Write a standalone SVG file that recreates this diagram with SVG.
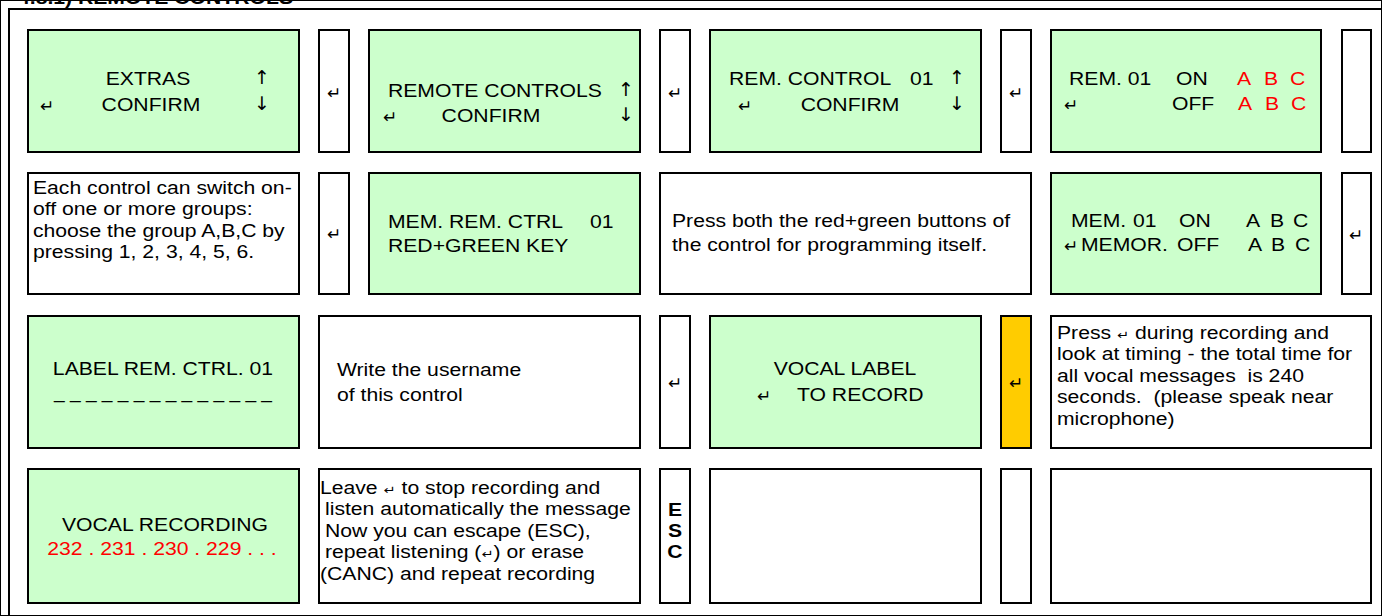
<svg xmlns="http://www.w3.org/2000/svg" width="1382" height="616" viewBox="0 0 1382 616">
<style>
rect{stroke:#000;stroke-width:2}
.g{fill:#CCFFCC}.w{fill:#FFFFFF}.o{fill:#FFCC00}
text{font-family:"Liberation Sans",Arial,sans-serif;font-size:17.5px;fill:#000;white-space:pre}
.c{text-anchor:middle;transform-box:fill-box;transform-origin:center;transform:scaleX(1.21)}
.l{transform-box:fill-box;transform-origin:left center;transform:scaleX(1.21)}
.k{font-family:"DejaVu Sans",sans-serif;font-size:17px;text-anchor:middle}
.a{font-family:"DejaVu Sans",sans-serif;font-size:19px;text-anchor:middle}
.s{font-family:"DejaVu Sans",sans-serif;font-size:12px}
.r{fill:#FF0000}
.b{font-weight:bold}
</style>
<rect width="1382" height="616" fill="#fff" stroke="none"/>
<text class="l b" x="18" y="4">4.8.1) REMOTE CONTROLS</text>
<path d="M9,616 V9 H1382" fill="none" stroke="#000" stroke-width="2"/>
<g id="connectors"/>

<g id="extras"><rect class="g" x="28" y="30" width="271" height="122"/>
<text class="c" x="148" y="85">EXTRAS</text><text class="c" x="151" y="111">CONFIRM</text>
<text class="k" x="47" y="112">↵</text><text class="a" x="262" y="84">↑</text><text class="a" x="262" y="110">↓</text></g>
<g id="key1"><rect class="w" x="319" y="30" width="30" height="122"/><text class="k" x="334" y="99">↵</text></g>
<g id="remote-controls"><rect class="g" x="369" y="30" width="271" height="122"/>
<text class="l" x="388" y="97">REMOTE CONTROLS</text><text class="c" x="491" y="122">CONFIRM</text>
<text class="k" x="390" y="123">↵</text><text class="a" x="626" y="96">↑</text><text class="a" x="626" y="121">↓</text></g>
<g id="key2"><rect class="w" x="660" y="30" width="30" height="122"/><text class="k" x="675" y="99">↵</text></g>
<g id="rem-control"><rect class="g" x="710" y="30" width="271" height="122"/>
<text class="l" x="729" y="85">REM. CONTROL</text><text class="l" x="910" y="85">01</text>
<text class="k" x="745" y="112">↵</text><text class="c" x="850" y="111">CONFIRM</text>
<text class="a" x="957" y="84">↑</text><text class="a" x="957" y="110">↓</text></g>
<g id="key3"><rect class="w" x="1001" y="30" width="30" height="122"/><text class="k" x="1016" y="99">↵</text></g>
<g id="rem01"><rect class="g" x="1051" y="30" width="270" height="122"/>
<text class="l" x="1069" y="85">REM. 01</text><text class="l" x="1176" y="85">ON</text>
<text class="l r" x="1237" y="85">A</text><text class="l r" x="1264" y="85">B</text><text class="l r" x="1290" y="85">C</text>
<text class="k" x="1071" y="111">↵</text><text class="l" x="1172" y="110">OFF</text>
<text class="l r" x="1238" y="110">A</text><text class="l r" x="1265" y="110">B</text><text class="l r" x="1291" y="110">C</text></g>
<g id="key4"><rect class="w" x="1342" y="30" width="29" height="122"/></g>

<g id="note-groups"><rect class="w" x="28" y="173" width="271" height="121"/>
<text class="l" x="33" y="194">Each control can switch on-</text>
<text class="l" x="33" y="215.5">off one or more groups:</text>
<text class="l" x="33" y="237">choose the group A,B,C by</text>
<text class="l" x="33" y="258.5">pressing 1, 2, 3, 4, 5, 6.</text></g>
<g id="key5"><rect class="w" x="319" y="173" width="30" height="121"/><text class="k" x="334" y="240">↵</text></g>
<g id="mem-rem-ctrl"><rect class="g" x="369" y="173" width="271" height="121"/>
<text class="l" x="388" y="228">MEM. REM. CTRL</text><text class="l" x="590" y="228">01</text>
<text class="l" x="388" y="252">RED+GREEN KEY</text></g>
<g id="note-press"><rect class="w" x="660" y="173" width="371" height="121"/>
<text class="l" x="672" y="227">Press both the red+green buttons of</text>
<text class="l" x="672" y="251">the control for programming itself.</text></g>
<g id="mem01"><rect class="g" x="1051" y="173" width="270" height="121"/>
<text class="l" x="1071" y="227">MEM.</text><text class="l" x="1133" y="227">01</text><text class="l" x="1179" y="227">ON</text>
<text class="l" x="1246" y="227">A</text><text class="l" x="1270" y="227">B</text><text class="l" x="1293" y="227">C</text>
<text class="k" x="1071" y="252">↵</text><text class="l" x="1081" y="251">MEMOR.</text><text class="l" x="1177" y="251">OFF</text>
<text class="l" x="1248" y="251">A</text><text class="l" x="1271" y="251">B</text><text class="l" x="1295" y="251">C</text></g>
<g id="key6"><rect class="w" x="1342" y="173" width="29" height="121"/><text class="k" x="1356" y="241">↵</text></g>

<g id="label-rem"><rect class="g" x="28" y="316" width="271" height="132"/>
<text class="c" x="163" y="375">LABEL REM. CTRL. 01</text>
<text x="54" y="398" textLength="218" lengthAdjust="spacingAndGlyphs">_ _ _ _ _ _ _ _ _ _ _ _ _ _</text></g>
<g id="note-username"><rect class="w" x="319" y="316" width="321" height="132"/>
<text class="l" x="337" y="376">Write the username</text>
<text class="l" x="337" y="401">of this control</text></g>
<g id="key7"><rect class="w" x="660" y="316" width="30" height="132"/><text class="k" x="675" y="389">↵</text></g>
<g id="vocal-label"><rect class="g" x="710" y="316" width="271" height="132"/>
<text class="c" x="845" y="375">VOCAL LABEL</text>
<text class="k" x="764" y="402">↵</text><text class="l" x="797" y="401">TO RECORD</text></g>
<g id="key8"><rect class="o" x="1001" y="316" width="30" height="132"/><text class="k" x="1016" y="389">↵</text></g>
<g id="note-timing"><rect class="w" x="1051" y="316" width="320" height="132"/>
<text class="l" x="1057" y="339">Press <tspan class="s">↵</tspan> during recording and</text>
<text class="l" x="1057" y="360.5">look at timing - the total time for</text>
<text class="l" x="1057" y="382">all vocal messages  is 240</text>
<text class="l" x="1057" y="403.5">seconds.  (please speak near</text>
<text class="l" x="1057" y="425">microphone)</text></g>

<g id="vocal-recording"><rect class="g" x="28" y="469" width="271" height="134"/>
<text class="c" x="165" y="531">VOCAL RECORDING</text>
<text class="c r" x="162" y="555">232 . 231 . 230 . 229 . . .</text></g>
<g id="note-leave"><rect class="w" x="319" y="469" width="321" height="134"/>
<text class="l" x="320" y="494">Leave <tspan class="s">↵</tspan> to stop recording and</text>
<text class="l" x="325" y="515.5">listen automatically the message</text>
<text class="l" x="325" y="537">Now you can escape (ESC),</text>
<text class="l" x="325" y="558.5">repeat listening (<tspan class="s">↵</tspan>) or erase</text>
<text class="l" x="320" y="580">(CANC) and repeat recording</text></g>
<g id="key-esc"><rect class="w" x="660" y="469" width="30" height="134"/>
<text class="c b" x="675" y="516">E</text><text class="c b" x="675" y="537">S</text><text class="c b" x="675" y="558">C</text></g>
<g id="empty1"><rect class="w" x="710" y="469" width="271" height="134"/></g>
<g id="key9"><rect class="w" x="1001" y="469" width="30" height="134"/></g>
<g id="empty2"><rect class="w" x="1051" y="469" width="320" height="134"/></g>
</svg>
